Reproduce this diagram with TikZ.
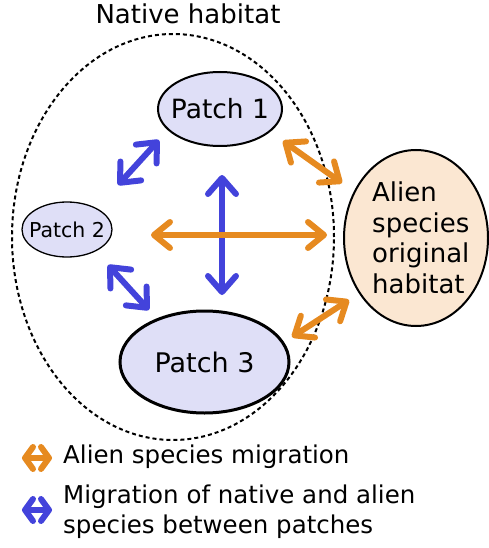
\documentclass[tikz,border=0pt]{standalone}
\usepackage{fontspec}
\setmainfont{DejaVu Sans}
\usetikzlibrary{shapes.geometric,arrows.meta}
\definecolor{patchfill}{HTML}{DFDFF7}
\definecolor{alienfill}{HTML}{FBE7D2}
\definecolor{migblue}{HTML}{4343DB}
\definecolor{migorange}{HTML}{E68A20}
\tikzset{
  patch/.style={ellipse, draw=black, fill=patchfill, inner sep=0pt},
  ptext/.style={inner sep=0pt},
  bluearrow/.style={draw=migblue, line width=6pt, line cap=round,
    {Straight Barb[length=16pt,width=28pt,round]}-{Straight Barb[length=16pt,width=28pt,round]}},
  orangearrow/.style={draw=migorange, line width=6pt, line cap=round,
    {Straight Barb[length=16pt,width=26pt,round]}-{Straight Barb[length=16pt,width=26pt,round]}},
  legarrow/.style={line width=6pt, line cap=round,
    {Straight Barb[length=8pt,width=22pt,round]}-{Straight Barb[length=8pt,width=22pt,round]}},
  legtext/.style={anchor=west, inner sep=0pt, align=left, font=\fontsize{24.5}{30}\selectfont}
}
\begin{document}
\begin{tikzpicture}[x=1pt,y=-1pt]
\useasboundingbox (0,0) rectangle (488,548);
% native habitat
\node[ellipse, draw=black, dashed, dash pattern=on 4pt off 3pt, line width=2pt,
  minimum width=322pt, minimum height=406pt, inner sep=0pt] (nat) at (173,237) {};
\node[font=\fontsize{26}{30}\selectfont, inner sep=0pt] (natlab) at (188,14) {Native habitat};
% patches
\node[patch, line width=2pt, minimum width=124pt, minimum height=74pt] (p1) at (220,109) {};
\node[ptext, font=\fontsize{26.5}{30}\selectfont] (p1t) at (p1) {Patch 1};
\node[patch, line width=1.3pt, minimum width=90pt, minimum height=55pt] (p2) at (67,229.5) {};
\node[ptext, font=\fontsize{20.5}{24}\selectfont] (p2t) at (p2) {Patch 2};
\node[patch, line width=3pt, minimum width=169pt, minimum height=102pt] (p3) at (204.5,362) {};
\node[ptext, font=\fontsize{27}{30}\selectfont] (p3t) at (p3) {Patch 3};
% alien habitat
\node[ellipse, draw=black, fill=alienfill, line width=2pt, minimum width=144pt,
  minimum height=176pt, inner sep=0pt] (al) at (416,238) {};
\node[anchor=west, align=left, inner sep=0pt,
  font=\fontsize{26}{30.5}\selectfont] (altext) at (372,238) {Alien\\species\\original\\habitat};
% arrow end points
\coordinate (b12a) at (118,185);
\coordinate (b12b) at (159,140);
\coordinate (b13a) at (222,175);
\coordinate (b13b) at (222,295);
\coordinate (b23a) at (108,265);
\coordinate (b23b) at (149,310);
\coordinate (o1a) at (283,141);
\coordinate (o1b) at (342,183);
\coordinate (o2a) at (151,235);
\coordinate (o2b) at (327,235);
\coordinate (o3a) at (292,337);
\coordinate (o3b) at (349,300);
\draw[bluearrow] (b12a) -- (b12b);
\draw[bluearrow] (b13a) -- (b13b);
\draw[bluearrow] (b23a) -- (b23b);
\draw[orangearrow] (o1a) -- (o1b);
\draw[orangearrow] (o2a) -- (o2b);
\draw[orangearrow] (o3a) -- (o3b);
% legend
\coordinate (l1a) at (22,458);
\coordinate (l1b) at (52,458);
\coordinate (l2a) at (22,510);
\coordinate (l2b) at (52,510);
\draw[legarrow, draw=migorange] (l1a) -- (l1b);
\draw[legarrow, draw=migblue] (l2a) -- (l2b);
\node[legtext] (leg1) at (63,457) {Alien species migration};
\node[legtext] (leg2) at (63,512) {Migration of native and alien\\species between patches};
\end{tikzpicture}
\end{document}
